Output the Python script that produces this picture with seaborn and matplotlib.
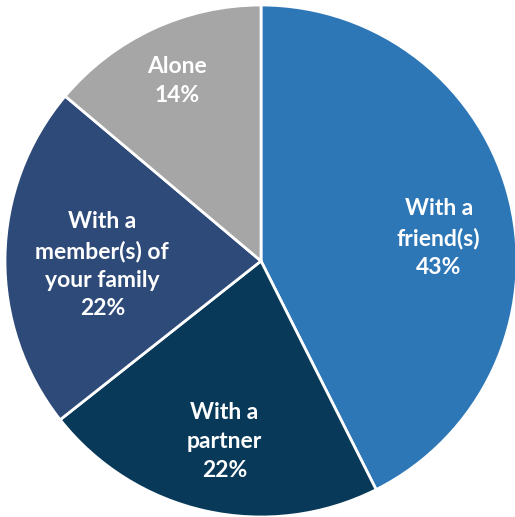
import matplotlib
matplotlib.use("Agg")
import matplotlib.pyplot as plt
import seaborn as sns
import numpy as np

sns.set_theme(style="white")
plt.rcParams['font.family'] = ['Lato', 'DejaVu Sans']

categories = ["With a\nfriend(s)", "With a\npartner", "With a\nmember(s) of\nyour family", "Alone"]
shares = [43, 22, 22, 14]
colors = ["#2E77B7", "#083958", "#2E4A79", "#A6A6A6"]

# label placement: radius (fraction of pie radius) and angle tweak in degrees
label_radius = [0.70, 0.72, 0.62, 0.775]
label_angle_shift = [-6, 1, 2.5, 0]

fig = plt.figure(figsize=(5.15, 5.17), dpi=100)
ax = fig.add_axes([5 / 515, 0 / 517, 512 / 515, 512 / 517])

wedges, _ = ax.pie(
    shares,
    colors=colors,
    startangle=90,
    counterclock=False,
    radius=1.0,
    wedgeprops=dict(edgecolor="white", linewidth=2.0),
)

for w, cat, val, r, da in zip(wedges, categories, shares, label_radius, label_angle_shift):
    mid = np.deg2rad((w.theta1 + w.theta2) / 2 + da)
    ax.text(r * np.cos(mid), r * np.sin(mid), f"{cat}\n{val}%",
            ha="center", va="center", color="white", fontsize=16.5,
            fontweight="bold", linespacing=1.45)

ax.set_xlim(-1, 1)
ax.set_ylim(-1, 1)
ax.set_aspect("equal")
ax.axis("off")

fig.savefig("out.png", dpi=100)
